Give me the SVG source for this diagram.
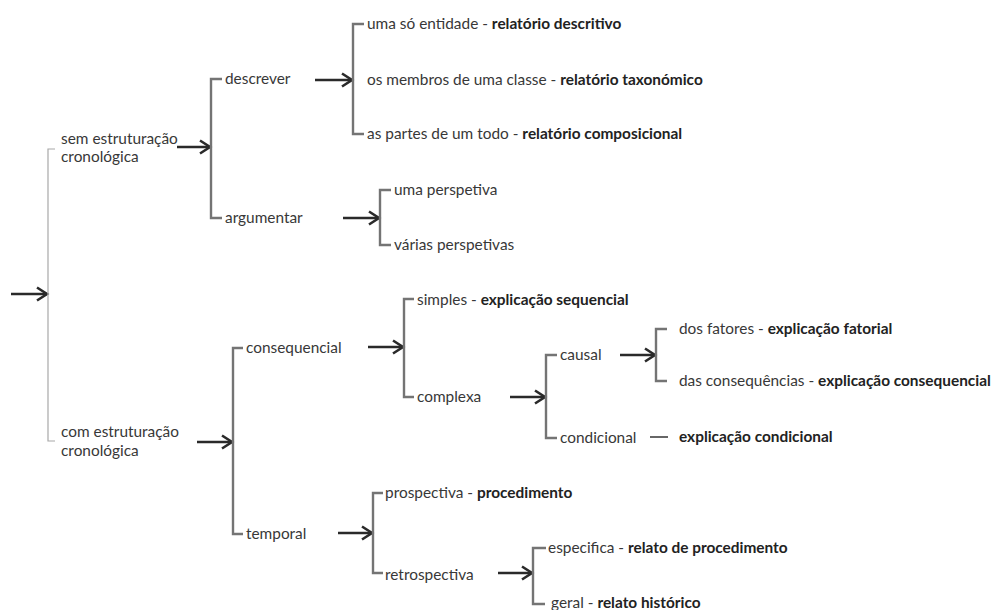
<svg xmlns="http://www.w3.org/2000/svg" width="991" height="610" viewBox="0 0 991 610">
<style>
.t{font-family:Lato,"Liberation Sans",sans-serif;font-size:15.4px;fill:#383838}
.b{font-weight:700;fill:#222}
.br{fill:none;stroke:#747474;stroke-width:2.4}
.br0{fill:none;stroke:#a8a8a8;stroke-width:1.2}
.ar{fill:none;stroke:#2a2a2a;stroke-width:2.4;marker-end:url(#ah)}
.ln{fill:none;stroke:#404040;stroke-width:1.6}
</style>
<defs>
<marker id="ah" markerUnits="userSpaceOnUse" markerWidth="14" markerHeight="16" refX="11" refY="7" orient="auto" overflow="visible">
<path d="M1,0.5 L11,7 L1,13.5" fill="none" stroke="#2a2a2a" stroke-width="2.6" stroke-linejoin="miter"/>
</marker>
</defs>
<rect width="991" height="610" fill="#fff"/>
<g id="connectors">
<line class="ar" x1="11" y1="294" x2="47" y2="294"/>
<path class="br0" d="M55,149 H48 V441 H55"/>
<line class="ar" x1="177" y1="147" x2="210" y2="147"/>
<path class="br" d="M222,79 H211 V218 H222"/>
<line class="ar" x1="315" y1="80" x2="352" y2="80"/>
<path class="br" d="M364,24 H353 V134 H364"/>
<line class="ar" x1="343" y1="218" x2="379" y2="218"/>
<path class="br" d="M391,190 H380 V245 H391"/>
<line class="ar" x1="197" y1="442" x2="232" y2="442"/>
<path class="br" d="M243,348 H233 V534 H243"/>
<line class="ar" x1="368" y1="347" x2="403" y2="347"/>
<path class="br" d="M414,299 H404 V397 H414"/>
<line class="ar" x1="510" y1="397" x2="545" y2="397"/>
<path class="br" d="M557,355 H546 V438 H557"/>
<line class="ar" x1="620" y1="355" x2="655" y2="355"/>
<path class="br" d="M667,329 H656 V381 H667"/>
<line class="ln" x1="650" y1="437" x2="668" y2="437"/>
<line class="ar" x1="338" y1="533" x2="372" y2="533"/>
<path class="br" d="M383,493 H373 V573 H383"/>
<line class="ar" x1="498" y1="573" x2="532" y2="573"/>
<path class="br" d="M546,548 H533 V604 H545"/>
</g>
<g id="n-sem"><text class="t" x="61" y="144">sem estruturação</text><text class="t" x="61" y="162">cronológica</text></g>
<g id="n-com"><text class="t" x="61" y="437">com estruturação</text><text class="t" x="61" y="456">cronológica</text></g>
<g id="n-descrever"><text class="t" x="225" y="84">descrever</text></g>
<g id="n-argumentar"><text class="t" x="225" y="223">argumentar</text></g>
<g id="n-entidade"><text class="t" x="367" y="29">uma só entidade - <tspan class="b">relatório descritivo</tspan></text></g>
<g id="n-membros"><text class="t" x="367" y="85">os membros de uma classe - <tspan class="b">relatório taxonómico</tspan></text></g>
<g id="n-partes"><text class="t" x="367" y="139">as partes de um todo - <tspan class="b">relatório composicional</tspan></text></g>
<g id="n-uma"><text class="t" x="394" y="195">uma perspetiva</text></g>
<g id="n-varias"><text class="t" x="394" y="250">várias perspetivas</text></g>
<g id="n-consequencial"><text class="t" x="246" y="353">consequencial</text></g>
<g id="n-temporal"><text class="t" x="246" y="539">temporal</text></g>
<g id="n-simples"><text class="t" x="417" y="305">simples - <tspan class="b">explicação sequencial</tspan></text></g>
<g id="n-complexa"><text class="t" x="417" y="402">complexa</text></g>
<g id="n-causal"><text class="t" x="560" y="360">causal</text></g>
<g id="n-condicional"><text class="t" x="560" y="443">condicional</text></g>
<g id="n-fatores"><text class="t" x="679" y="334">dos fatores - <tspan class="b">explicação fatorial</tspan></text></g>
<g id="n-consequencias"><text class="t" x="679" y="386">das consequências - <tspan class="b">explicação consequencial</tspan></text></g>
<g id="n-expcond"><text class="t b" x="679" y="442">explicação condicional</text></g>
<g id="n-prospectiva"><text class="t" x="385" y="498">prospectiva - <tspan class="b">procedimento</tspan></text></g>
<g id="n-retrospectiva"><text class="t" x="385" y="580">retrospectiva</text></g>
<g id="n-especifica"><text class="t" x="548" y="553">especifica - <tspan class="b">relato de procedimento</tspan></text></g>
<g id="n-geral"><text class="t" x="551" y="608">geral - <tspan class="b">relato histórico</tspan></text></g>
</svg>
